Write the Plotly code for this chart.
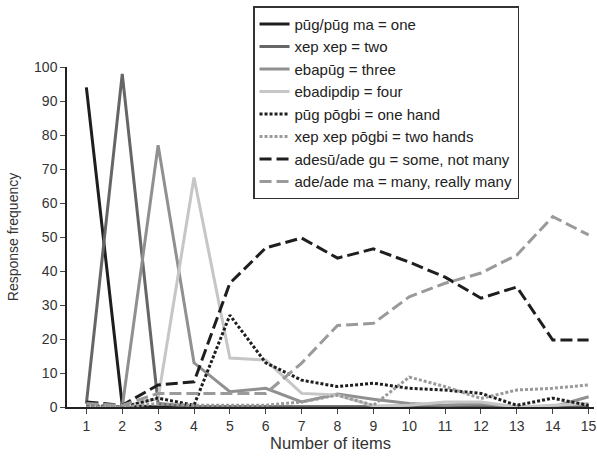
import plotly.graph_objects as go

# number of items shown
items = list(range(1, 16))

# response frequency for each word
pug = [94, 0.5, 0, 0, 0, 0, 0, 0, 0, 0, 0, 0, 0, 0, 0]
xep = [1, 98, 1, 0, 0, 0, 0, 0, 0, 0, 0, 0, 0, 0, 0]
ebapug = [0, 0, 77, 13, 4.5, 5.5, 1.5, 3.8, 2.3, 1, 0.5, 1, 0, 0, 3]
ebadipdip = [0, 0, 2.5, 67.5, 14.4, 13.8, 4, 3.5, 0.3, 0.5, 1.5, 1.5, 0, 0.5, 1]
one_hand = [0.5, 0, 2.6, 0.5, 27, 13, 7.9, 6, 7, 5.5, 5, 4, 0.5, 2.6, 0.5]
two_hands = [0, 0, 1, 0.5, 0.5, 0.5, 1.5, 3.5, 0.5, 8.8, 6, 2.5, 5, 5.5, 6.5]
adesu = [1.5, 0.5, 6.5, 7.4, 36.4, 46.8, 49.7, 43.8, 46.5, 42.6, 38.2, 32, 35.3, 19.7, 19.7]
ade_ma = [1, 0.5, 4, 4, 4, 4, 12.9, 24, 24.6, 32.4, 36.4, 39.4, 44.7, 56, 50.6]

names = ["pūg/pūg ma = one", "xep xep = two", "ebapūg = three", "ebadipdip = four",
         "pūg pōgbi = one hand", "xep xep pōgbi = two hands",
         "adesū/ade gu = some, not many", "ade/ade ma = many, really many"]
series = [pug, xep, ebapug, ebadipdip, one_hand, two_hands, adesu, ade_ma]
colors = ["#1e1e1e", "#666666", "#909090", "#c6c6c6", "#1e1e1e", "#9a9a9a", "#1e1e1e", "#9a9a9a"]
dashes = ["solid", "solid", "solid", "solid", "3px,2px", "3px,2px", "12px,5px", "12px,5px"]

fig = go.Figure()
for name, ys, col, dsh in zip(names, series, colors, dashes):
    fig.add_trace(go.Scatter(x=items, y=ys, name=name, mode="lines",
                             line=dict(color=col, width=3, dash=dsh)))

fig.update_layout(
    width=597, height=459,
    margin=dict(l=67, r=0, t=67, b=52),
    plot_bgcolor="white", paper_bgcolor="white",
    font=dict(family="Liberation Sans, Arial, sans-serif", color="#333333", size=14),
    showlegend=True,
    legend=dict(x=0.353, y=1.179, xanchor="left", yanchor="top",
                bordercolor="#333333", borderwidth=1.5, bgcolor="white",
                font=dict(size=15, color="#222222")),
)
fig.update_xaxes(range=[0.46, 15.15], tickvals=items, ticks="outside", ticklen=5,
                 ticklabeloverflow="allow",
                 showline=True, linecolor="#222222", linewidth=1.5, showgrid=False,
                 zeroline=False, title=dict(text="Number of items", font=dict(size=16.5), standoff=4))
fig.update_yaxes(range=[0, 100], tickvals=list(range(0, 101, 10)), ticks="outside", ticklen=5,
                 showline=True, linecolor="#222222", linewidth=1.5, showgrid=False,
                 zeroline=False, title=dict(text="Response frequency", font=dict(size=14), standoff=12))

# page body has an 8px default margin; drop it so the figure sits at the corner
fig.write_html("out.html", config={"displayModeBar": False},
               post_script="document.body.style.margin='0';")
